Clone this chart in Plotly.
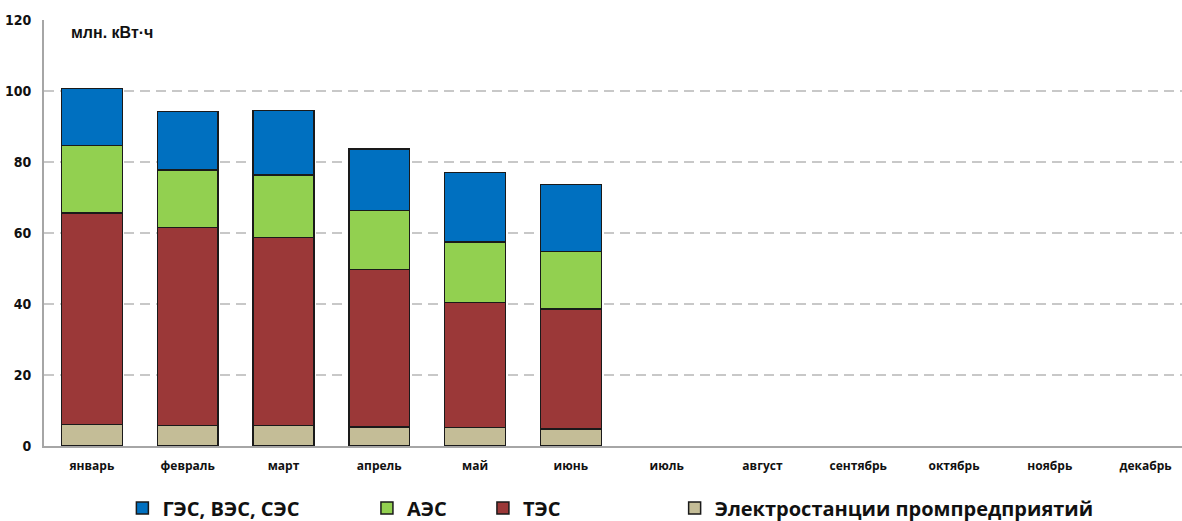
import plotly.graph_objects as go

months = ["январь", "февраль", "март", "апрель", "май", "июнь",
          "июль", "август", "сентябрь", "октябрь", "ноябрь", "декабрь"]

# Выработка по типам станций, млн. кВт·ч (январь–июнь)
prom = [6.1, 5.8, 5.8, 5.4, 5.2, 4.8]
tes = [59.6, 55.7, 52.9, 44.3, 35.2, 33.8]
aes = [18.9, 16.3, 17.6, 16.6, 17.1, 16.2]
ges = [16.1, 16.4, 18.2, 17.4, 19.5, 18.9]

y_ticks = [0, 20, 40, 60, 80, 100, 120]

series = [
    ("Электростанции промпредприятий", prom, "#C4BD97"),
    ("ТЭС" + "\u00a0" * 21, tes, "#9B3838"),
    ("АЭС" + "\u00a0" * 6, aes, "#92D050"),
    ("ГЭС, ВЭС, СЭС" + "\u00a0" * 12, ges, "#0070C0"),
]

fig = go.Figure()
for name, vals, color in series:
    fig.add_trace(go.Bar(
        x=months[:len(vals)], y=vals, name=name,
        marker=dict(color=color, line=dict(color="#1a1a1a", width=1.5)),
    ))

fig.update_layout(
    width=1182, height=521,
    barmode="stack", bargap=0.365,
    plot_bgcolor="white", paper_bgcolor="white",
    margin=dict(l=44, r=0, t=20, b=75, autoexpand=False),
    showlegend=True,
    legend=dict(
        orientation="h", traceorder="reversed",
        x=0.4977, xanchor="center", yref="container", y=0.025, yanchor="middle",
        font=dict(family="Open Sans", size=20, color="#111111", weight="bold"),
        itemwidth=30,
    ),
    annotations=[dict(
        text="<b>млн. кВт·ч</b>", xref="paper", yref="y",
        x=0.022, y=116.4, xanchor="left", yanchor="middle", showarrow=False,
        font=dict(family="Liberation Sans", size=16, color="#111111"),
    )],
)

fig.update_xaxes(
    type="category", categoryorder="array", categoryarray=months,
    tickvals=months, ticktext=months,
    range=[-0.5, 11.38],
    showline=True, linecolor="#a6a6a6", linewidth=2,
    showgrid=False, ticks="", ticklabelstandoff=8,
    tickfont=dict(family="Open Sans", size=12, color="#111111", weight="bold"),
)
fig.update_yaxes(
    range=[0, 120], tickvals=y_ticks, ticktext=[str(v) for v in y_ticks],
    showline=True, linecolor="#a6a6a6", linewidth=2,
    showgrid=True, gridcolor="#c8c8c8", gridwidth=1.5, griddash="10px,6px",
    zeroline=False, ticks="", ticklabelstandoff=8,
    tickfont=dict(family="DejaVu Sans Condensed", size=14, color="#111111", weight="bold"),
)

fig.write_html("out.html")
